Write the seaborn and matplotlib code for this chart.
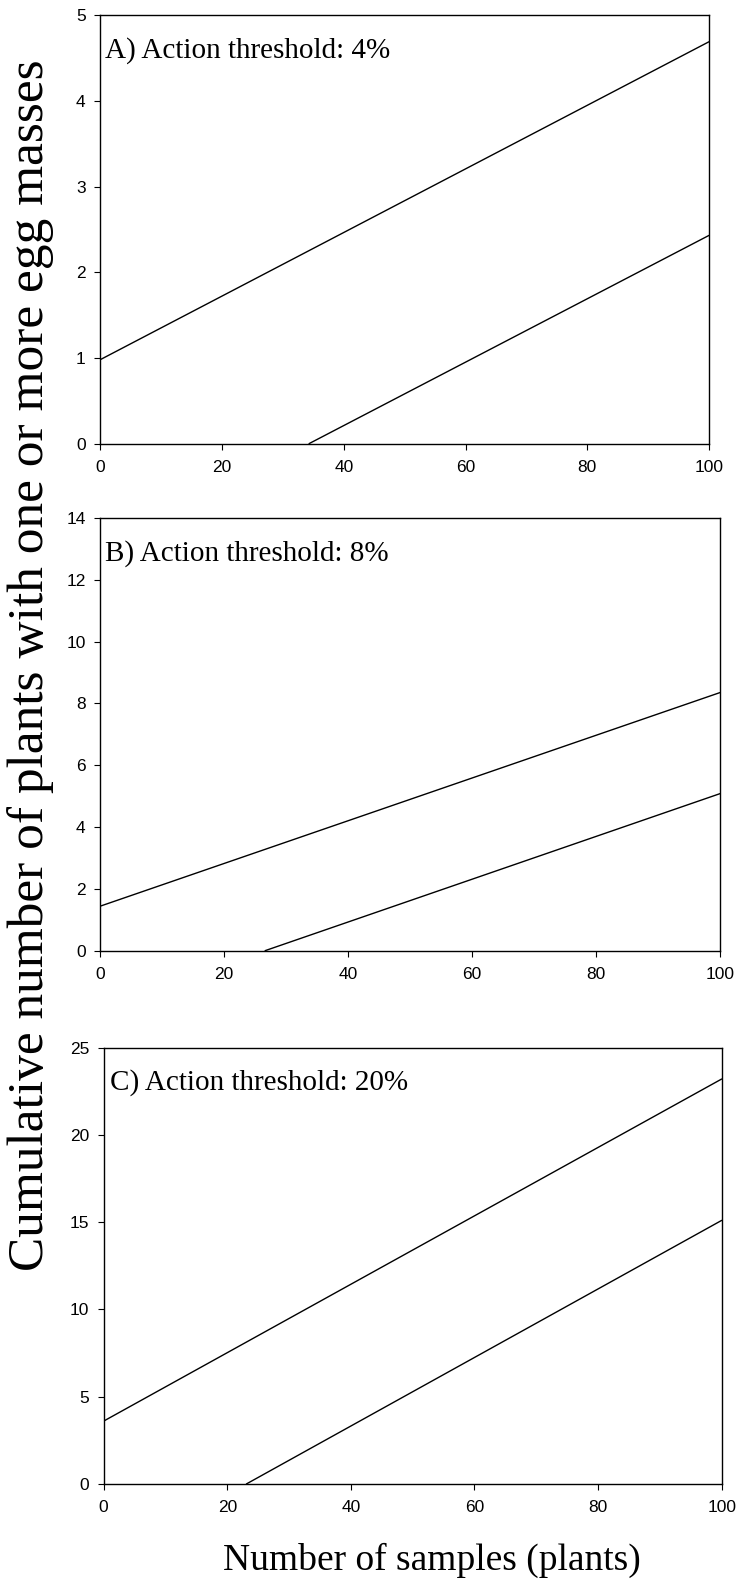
import numpy as np
import pandas as pd
import seaborn as sns
import matplotlib.pyplot as plt

# Values (upper / lower decision lines per panel)
panel_labels = ["A) Action threshold: 4%", "B) Action threshold: 8%", "C) Action threshold: 20%"]
upper_x = [0, 100]
upper_a = [0.98, 4.69]
upper_b = [1.44, 8.35]
upper_c = [3.6, 23.2]
lower_x_a = [34.3, 100]
lower_a = [0, 2.43]
lower_x_b = [26.6, 100]
lower_b = [0, 5.08]
lower_x_c = [23.1, 100]
lower_c = [0, 15.1]
y_max = [5, 14, 25]
y_step = [1, 2, 5]
x_ticks = [0, 20, 40, 60, 80, 100]

sns.set_style("ticks")
plt.rcParams['font.family'] = ['Liberation Sans', 'DejaVu Sans']
plt.rcParams['text.color'] = 'black'

fig = plt.figure(figsize=(7.39, 15.81), dpi=100)
positions = [
    [0.1357, 0.7194, 0.8237, 0.2710],
    [0.1357, 0.3987, 0.8386, 0.2737],
    [0.1403, 0.0614, 0.8363, 0.2760],
]
uppers = [upper_a, upper_b, upper_c]
lowers = [(lower_x_a, lower_a), (lower_x_b, lower_b), (lower_x_c, lower_c)]
text_x = [0.008, 0.008, 0.01]

for i, pos in enumerate(positions):
    ax = fig.add_axes(pos)
    sns.lineplot(x=upper_x, y=uppers[i], ax=ax, color="black", linewidth=1)
    sns.lineplot(x=lowers[i][0], y=lowers[i][1], ax=ax, color="black", linewidth=1)
    ax.set_xlim(0, 100)
    ax.set_ylim(0, y_max[i])
    ax.set_xticks(x_ticks)
    ax.set_yticks(np.arange(0, y_max[i] + 1, y_step[i]))
    ax.tick_params(direction="out", length=4.5, width=0.8, labelsize=12.5,
                   colors="black", top=False, right=False)
    ax.tick_params(axis="y", pad=6)
    ax.tick_params(axis="x", pad=7)
    for sp in ax.spines.values():
        sp.set_visible(True)
        sp.set_color("black")
        sp.set_linewidth(1)
    ax.set_xlabel("")
    ax.set_ylabel("")
    ax.text(text_x[i], 0.95, panel_labels[i], transform=ax.transAxes, color="black",
            va="top", ha="left", fontsize=21, family="Liberation Serif")

fig.text(0.041, 0.579, "Cumulative number of plants with one or more egg masses",
         rotation=90, va="center", ha="center", fontsize=37, family="Liberation Serif")
fig.text(0.585, 0.007, "Number of samples (plants)", va="baseline", ha="center",
         fontsize=27, family="Liberation Serif")

fig.savefig("out.png", dpi=100)
